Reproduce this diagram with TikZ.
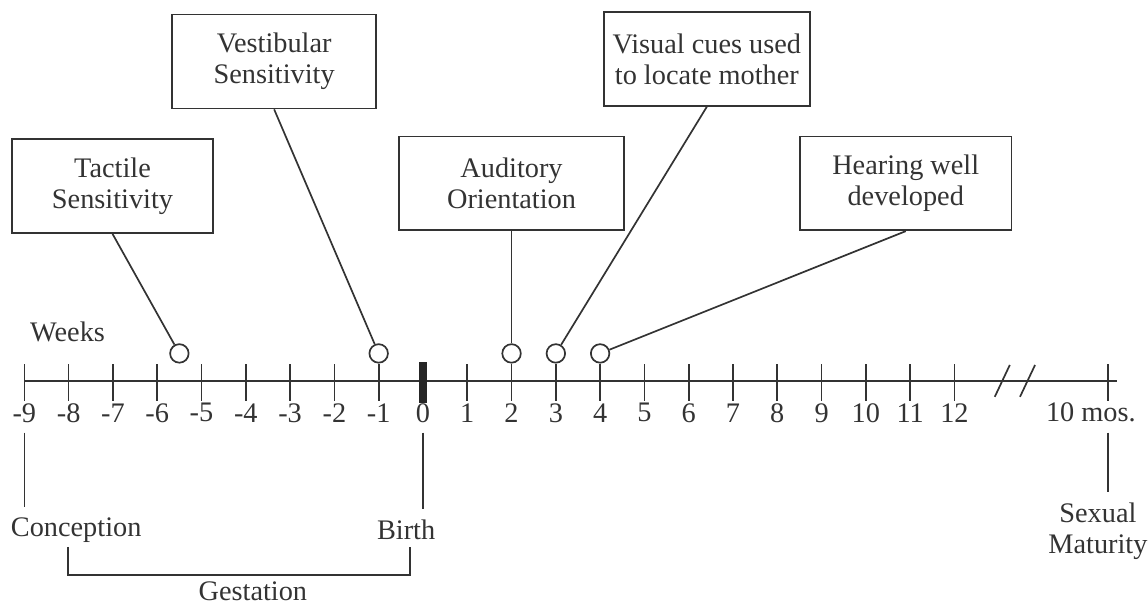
\documentclass[tikz,border=0pt]{standalone}
\usepackage{fontspec}
\setmainfont{Liberation Serif}
\usetikzlibrary{positioning, calc}

\begin{document}
\begin{tikzpicture}[x=0.55cm, y=0.55cm, line width=0.6pt, color=black!80,
  every node/.style={font=\fontsize{10}{11}\selectfont},
  sensebox/.style={draw, align=center, minimum height=1.166cm, inner sep=2pt},
  marker/.style={draw, circle, fill=white, minimum size=0.23cm, inner sep=0pt}]
  \useasboundingbox (-9.55,-5.08) rectangle (16.37,8.60);

  % Time axis
  \draw (-9,0) -- (15.67,0);
  \foreach \w in {-9,...,12} {
    \ifnum\w=0\else \draw (\w,0.38) -- (\w,-0.45); \fi
    \node (lab\w) at (\w,-0.72) {\w};
  }
  \fill[black!85] (-0.09,0.42) rectangle (0.09,-0.5);
  \coordinate (mostick) at (15.46,0);
  \draw (15.46,0.38) -- (15.46,-0.45);
  \node (mos) at (15.08,-0.72) {10 mos.};
  \node[anchor=west] (weeks) at (-9.1,1.11) {Weeks};

  % Break in the axis
  \draw (12.91,-0.36) -- (13.25,0.36);
  \draw (13.48,-0.36) -- (13.82,0.36);

  % Onset markers
  \node[marker] (m-tac) at (-5.5,0.62) {};
  \node[marker] (m-ves) at (-1,0.62) {};
  \node[marker] (m-aud) at (2,0.62) {};
  \node[marker] (m-vis) at (3,0.62) {};
  \node[marker] (m-hea) at (4,0.62) {};
  \foreach \m in {ves,aud,vis,hea}
    \draw (m-\m.south) -- ++(0,-0.1);

  % Senses
  \node[sensebox, minimum width=2.50cm] (tactile) at (-7.01,4.40) {Tactile\\Sensitivity};
  \node[sensebox, minimum width=2.53cm] (vestib) at (-3.36,7.21) {Vestibular\\Sensitivity};
  \node[sensebox, minimum width=2.79cm] (auditory) at (2,4.46) {Auditory\\Orientation};
  \node[sensebox, minimum width=2.56cm] (visual) at (6.41,7.27) {Visual cues used\\to locate mother};
  \node[sensebox, minimum width=2.63cm] (hearing) at (10.90,4.46) {Hearing well\\developed};

  \draw (tactile.south) -- (m-tac);
  \draw (vestib.south) -- (m-ves);
  \draw (auditory.south) -- (m-aud);
  \draw (visual.south) -- (m-vis);
  \draw (hearing.south) -- (m-hea);

  % Landmarks below the axis
  \node (concep) at (-7.83,-3.36) {Conception};
  \node (birth) at (-0.38,-3.36) {Birth};
  \node[align=center] (maturity) at (15.24,-3.39) {Sexual\\Maturity};
  \draw (lab-9.south) -- (lab-9.south |- concep.north);
  \draw (lab0.south) -- (lab0.south |- birth.north);
  \draw (mostick |- mos.south) -- (mostick |- maturity.north);

  % Gestation bracket
  \coordinate (gleft) at (-8.01,-3.75);
  \coordinate (gright) at (-0.29,-3.75);
  \draw (gleft) -- ++(0,-0.63) -| (gright);
  \node (gestation) at (-3.84,-4.76) {Gestation};
\end{tikzpicture}
\end{document}
